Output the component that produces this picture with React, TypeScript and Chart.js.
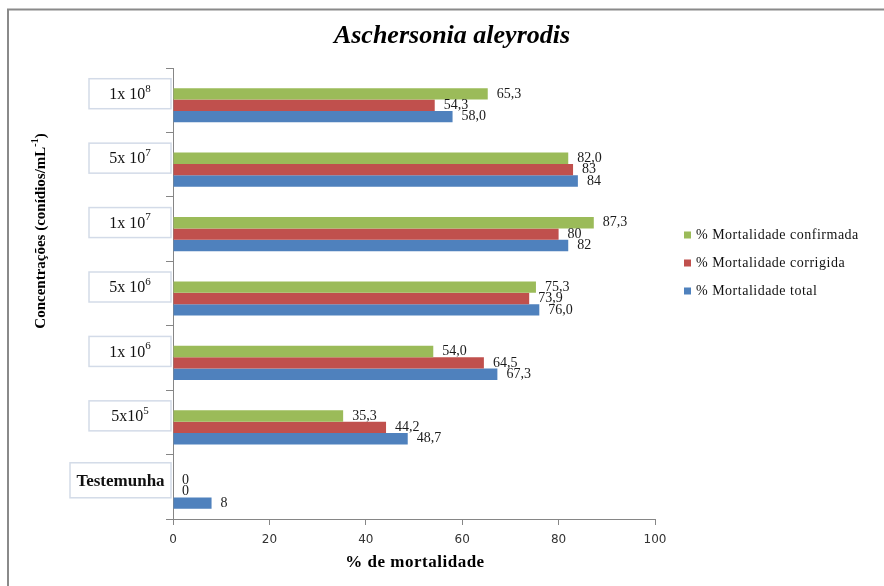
import React, { useEffect, useRef } from 'react';
import { Chart, registerables } from 'chart.js';

Chart.register(...registerables);

// Concentration categories (base text + exponent drawn as superscript)
const categoryBase = ['1x 10', '5x 10', '1x 10', '5x 10', '1x 10', '5x10', 'Testemunha'];
const categoryExp = ['8', '7', '7', '6', '6', '5', ''];

// Series values as printed next to each bar (decimal comma)
const confirmadaText = ['65,3', '82,0', '87,3', '75,3', '54,0', '35,3', '0'];
const corrigidaText = ['54,3', '83', '80', '73,9', '64,5', '44,2', '0'];
const totalText = ['58,0', '84', '82', '76,0', '67,3', '48,7', '8'];

const seriesNames = ['% Mortalidade confirmada', '% Mortalidade corrigida', '% Mortalidade total'];
const seriesColors = ['#9BBB59', '#C0504D', '#4F81BD'];

const xMin = 0;
const xMax = 100;
const xStep = 20;

const toNum = (s: string) => parseFloat(s.replace(',', '.'));
const seriesText = [confirmadaText, corrigidaText, totalText];

const SERIF = '"Liberation Serif", "Times New Roman", serif';
const AXIS_COLOR = '#868686';

function drawSup(
  ctx: CanvasRenderingContext2D,
  parts: { text: string; sup?: boolean }[],
  cx: number,
  cy: number,
  size: number,
  weight: string
) {
  const supSize = Math.round(size * 0.66);
  const widths = parts.map((p) => {
    ctx.font = `${weight} ${p.sup ? supSize : size}px ${SERIF}`;
    return ctx.measureText(p.text).width;
  });
  const total = widths.reduce((a, b) => a + b, 0);
  let x = cx - total / 2;
  ctx.textAlign = 'left';
  ctx.textBaseline = 'middle';
  parts.forEach((p, i) => {
    ctx.font = `${weight} ${p.sup ? supSize : size}px ${SERIF}`;
    ctx.fillText(p.text, x, p.sup ? cy - size * 0.38 : cy);
    x += widths[i];
  });
}

const BAR_SHIFT = 5;

const decorPlugin = {
  id: 'decor',
  beforeDraw(chart: any) {
    const { ctx, width, height } = chart;
    ctx.save();
    ctx.fillStyle = '#ffffff';
    ctx.fillRect(0, 0, width, height);
    // outer frame
    ctx.strokeStyle = '#8a8a8a';
    ctx.lineWidth = 2;
    ctx.strokeRect(8, 9.5, width + 20, height + 20);
    ctx.restore();
  },
  beforeDatasetsDraw(chart: any) {
    chart.ctx.save();
    chart.ctx.translate(0, BAR_SHIFT);
  },
  afterDatasetsDraw(chart: any) {
    const ctx = chart.ctx;
    ctx.font = `14px ${SERIF}`;
    ctx.fillStyle = '#1a1a1a';
    ctx.textAlign = 'left';
    ctx.textBaseline = 'middle';
    seriesText.forEach((texts, i) => {
      const meta = chart.getDatasetMeta(i);
      meta.data.forEach((bar: any, j: number) => {
        const { x, y } = bar.getProps(['x', 'y'], true);
        ctx.fillText(texts[j], x + 9, y);
      });
    });
    ctx.restore();
  },
  afterDraw(chart: any) {
    const { ctx, chartArea, scales } = chart;
    ctx.save();
    ctx.fillStyle = '#000000';

    // title
    ctx.font = `italic bold 26px ${SERIF}`;
    ctx.textAlign = 'center';
    ctx.textBaseline = 'middle';
    ctx.fillText('Aschersonia aleyrodis', 452, 36);

    // x axis title
    ctx.font = `bold 17px ${SERIF}`;
    (ctx as any).letterSpacing = '0.5px';
    ctx.fillText('% de mortalidade', (chartArea.left + chartArea.right) / 2 + 1, 563);
    (ctx as any).letterSpacing = '0px';

    // y axis title (rotated)
    ctx.save();
    ctx.translate(41, 231);
    ctx.rotate(-Math.PI / 2);
    drawSup(
      ctx,
      [{ text: 'Concentrações (conídios/mL' }, { text: '-1', sup: true }, { text: ')' }],
      0,
      0,
      15,
      'bold'
    );
    ctx.restore();

    // category label boxes
    const yScale = scales.y;
    categoryBase.forEach((base, i) => {
      const cy = yScale.getPixelForValue(i) - 6.5;
      const isControl = categoryExp[i] === '';
      const w = isControl ? 101 : 82;
      const h = isControl ? 35 : 30;
      const right = 171;
      ctx.fillStyle = '#ffffff';
      ctx.fillRect(right - w, cy - h / 2, w, h);
      ctx.strokeStyle = '#d3dbe8';
      ctx.lineWidth = 1.5;
      ctx.strokeRect(right - w, cy - h / 2, w, h);
      ctx.fillStyle = '#111111';
      const cx = right - w / 2;
      if (isControl) {
        drawSup(ctx, [{ text: base }], cx, cy + 1, 17, 'bold');
      } else {
        drawSup(ctx, [{ text: base }, { text: categoryExp[i], sup: true }], cx, cy + 1, 16, 'normal');
      }
    });

    // legend
    const legendY = [235, 263, 291];
    seriesNames.forEach((name, i) => {
      ctx.fillStyle = seriesColors[i];
      ctx.fillRect(684, legendY[i] - 3.5, 7, 7);
      ctx.fillStyle = '#111111';
      ctx.font = `14px ${SERIF}`;
      (ctx as any).letterSpacing = '0.5px';
      ctx.textAlign = 'left';
      ctx.textBaseline = 'middle';
      ctx.fillText(name, 696, legendY[i]);
      (ctx as any).letterSpacing = '0px';
    });

    ctx.restore();
  },
};

export default function App() {
  const canvasRef = useRef<HTMLCanvasElement | null>(null);

  useEffect(() => {
    document.body.style.margin = '0';
    const canvas = canvasRef.current;
    if (!canvas) return;

    const chart = new Chart(canvas, {
      type: 'bar',
      data: {
        labels: categoryBase.map((b, i) => b + categoryExp[i]),
        datasets: seriesNames.map((name, i) => ({
          label: name,
          data: seriesText[i].map(toNum),
          backgroundColor: seriesColors[i],
          borderWidth: 0,
          barPercentage: 1,
          categoryPercentage: 0.53,
        })),
      },
      options: {
        indexAxis: 'y',
        responsive: false,
        animation: false,
        layout: { padding: { top: 68, right: 229, bottom: 0, left: 0 } },
        plugins: {
          legend: { display: false },
          title: { display: false },
          tooltip: { enabled: false },
        },
        scales: {
          x: {
            min: xMin,
            max: xMax,
            ticks: {
              stepSize: xStep,
              padding: 8,
              color: '#333333',
              font: { family: '"DejaVu Sans", Verdana, sans-serif', size: 12 },
            },
            grid: { drawOnChartArea: false, drawTicks: true, tickLength: 6, color: AXIS_COLOR },
            border: { color: AXIS_COLOR, width: 1 },
            afterFit: (s: any) => {
              s.height = 586 - 519;
            },
          },
          y: {
            ticks: { display: false },
            grid: {
              drawOnChartArea: false,
              drawTicks: true,
              tickLength: 7,
              offset: true,
              color: AXIS_COLOR,
            },
            border: { color: AXIS_COLOR, width: 1 },
            afterFit: (s: any) => {
              s.width = 173;
            },
          },
        },
      } as any,
      plugins: [decorPlugin],
    });

    return () => chart.destroy();
  }, []);

  return (
    <div style={{ width: 884, height: 586 }}>
      <canvas ref={canvasRef} width={884} height={586} />
    </div>
  );
}
